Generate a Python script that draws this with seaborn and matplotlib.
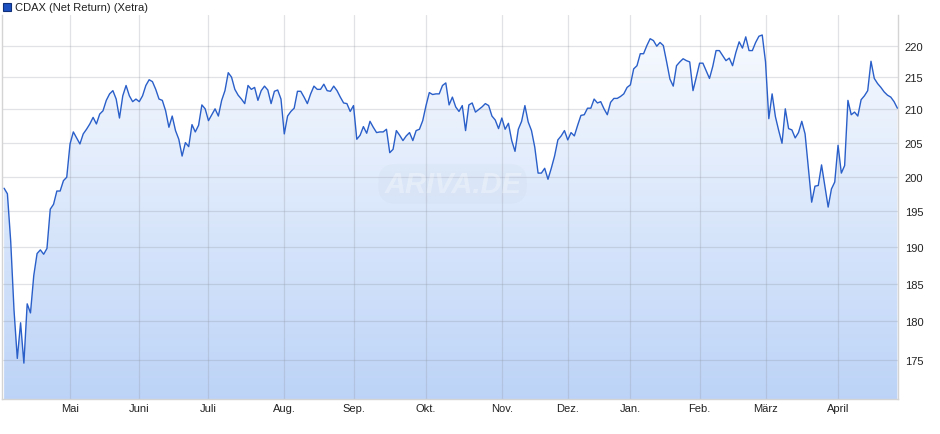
import numpy as np
import pandas as pd
import matplotlib
matplotlib.use("Agg")
import matplotlib.pyplot as plt
import seaborn as sns
from matplotlib.ticker import FixedLocator, NullLocator, FuncFormatter
from matplotlib.patches import Rectangle

# daily closes (trading days, April 2025 - April 2026)
apr_2025 = [198.3, 197.5, 190.8, 181.5, 175.2, 179.8, 174.6, 182.3, 181.1, 186.1,
            189.1, 189.6, 189.0, 189.8, 195.3, 196.0, 197.9, 197.9, 199.4, 199.9]
may_to_sep = [204.8, 206.6, 205.7, 204.8, 206.3, 207.0, 207.8, 208.8, 207.8, 209.3, 209.8,
              211.4, 212.4, 212.9, 211.6, 208.7, 212.1, 213.7, 212.1, 211.2, 211.6,
              211.2, 212.1, 213.7, 214.6, 214.3, 213.1, 211.6, 211.4, 209.8, 207.3,
              209.0, 206.8, 205.5, 203.0, 205.0, 204.4, 207.7, 206.6, 207.6, 210.7,
              210.1, 208.3, 209.2, 210.1, 209.0, 211.4, 212.9, 215.7, 215.0, 213.1,
              212.2, 211.6, 210.9, 213.7, 213.1, 213.4, 211.4, 212.9, 213.6, 213.0,
              210.9, 212.8, 213.0, 211.6, 206.3, 209.0, 209.7, 210.2, 212.8, 212.8,
              211.9, 210.9, 212.4, 213.6, 213.1, 213.1, 213.9, 212.9, 212.8, 213.6,
              212.9, 211.9, 211.0, 210.9, 209.7, 210.6, 205.5, 206.1]
sep_to_jan = [207.4, 206.4, 208.2, 207.3, 206.5, 206.6, 206.6, 207.0, 203.5, 204.0,
              206.8, 206.1, 205.3, 206.0, 206.5, 205.3, 206.8, 207.0, 208.3, 210.6,
              212.6, 212.3, 212.4, 212.4, 213.7, 214.1, 210.7, 211.9, 210.4, 209.7,
              210.6, 206.8, 210.7, 211.0, 209.6, 210.0, 210.4, 210.9, 210.6, 209.0,
              208.4, 207.1, 208.7, 207.0, 207.9, 205.3, 203.7, 207.0, 208.2, 210.6,
              208.1, 206.8, 204.3, 200.5, 200.5, 201.2, 199.6, 201.2, 203.0, 205.4,
              206.0, 206.8, 205.4, 206.5, 206.0, 207.6, 209.1, 209.2, 210.2, 210.2,
              211.6, 211.0, 211.2, 210.1, 209.2, 211.1, 211.7, 211.7, 212.0, 212.4,
              213.4, 213.8, 216.3, 216.8, 218.7]
jan_to_apr = [218.7, 220.0, 221.1, 220.8, 219.9, 220.5, 220.0, 217.4, 214.7, 213.6,
              216.8, 217.4, 217.9, 217.6, 217.4, 212.9, 215.0, 217.2, 217.2, 216.0,
              214.8, 216.7, 219.2, 219.2, 218.4, 217.6, 218.0, 216.8, 218.9, 220.6,
              219.6, 221.4, 219.2, 219.2, 220.5, 221.5, 221.7, 217.4, 208.6, 212.4,
              208.9, 206.8, 204.9, 210.1, 207.1, 206.9, 205.7, 206.5, 208.2, 206.3,
              201.2, 196.3, 198.6, 198.7, 201.7, 198.6, 195.6, 198.2, 199.2, 204.6,
              200.5, 201.6, 211.4, 209.2, 209.6, 209.0, 211.5, 212.1, 212.9, 217.5,
              214.8, 214.0, 213.4, 212.7, 212.2, 211.9, 211.2, 210.2]

month_labels = ["Mai", "Juni", "Juli", "Aug.", "Sep.", "Okt.", "Nov.",
                "Dez.", "Jan.", "Feb.", "März", "April"]
month_start = [20, 41, 62, 85, 106, 128, 151, 171, 190, 211, 231, 253]
y_ticks = [175, 180, 185, 190, 195, 200, 205, 210, 215, 220]

values = apr_2025 + may_to_sep + sep_to_jan + jan_to_apr
df = pd.DataFrame({"day": np.arange(len(values)), "close": values})

sns.set_style("white")
plt.rcParams["font.family"] = ["Liberation Sans", "DejaVu Sans"]

fig = plt.figure(figsize=(9.4, 4.35), dpi=100)
ax = fig.add_axes([2 / 940, 35 / 435, 895.7 / 940, 384.3 / 435])

ax.set_yscale("log")
x_lo, x_hi = -0.64, 271.1
y_lo, y_hi = 170.1, 225.0
ax.set_xlim(x_lo, x_hi)
ax.set_ylim(y_lo, y_hi)
ax.set_autoscale_on(False)

# gradient area under the line
poly = ax.fill_between(df["day"], df["close"], y_lo, color="none", linewidth=0)
top = np.array([0.98, 0.988, 1.0])
bottom = np.array([0.74, 0.83, 0.97])
t = np.linspace(0, 1, 256)[:, None]
grad = (top * (1 - t) + bottom * t)[:, None, :]
im = ax.imshow(grad, extent=[0, 1, 0, 1], transform=ax.transAxes,
               aspect="auto", zorder=0.2, interpolation="bilinear")
im.set_clip_path(poly.get_paths()[0], transform=ax.transData)

sns.lineplot(data=df, x="day", y="close", ax=ax, color="#2a5fc9",
             linewidth=1.0, zorder=3)

ax.set_xlim(x_lo, x_hi)
ax.set_ylim(y_lo, y_hi)

ax.set_xticks(month_start)
ax.set_xticklabels(month_labels)
ax.yaxis.set_major_locator(FixedLocator(y_ticks))
ax.yaxis.set_minor_locator(NullLocator())
ax.yaxis.set_major_formatter(FuncFormatter(lambda v, p: f"{v:.0f}"))
ax.yaxis.tick_right()
ax.tick_params(axis="both", length=0, labelsize=8, colors="#222222")
ax.tick_params(axis="y", pad=5)
ax.tick_params(axis="x", pad=3)
ax.set_xlabel("")
ax.set_ylabel("")

ax.grid(True, color="#8a8f99", alpha=0.25, linewidth=0.9)
ax.set_axisbelow(True)
for side in ["left", "right", "bottom"]:
    ax.spines[side].set_color("#d4d4d4")
    ax.spines[side].set_linewidth(1.0)
ax.spines["top"].set_visible(False)

# faint watermark
ax.text(0.503, 0.56, "ARIVA.DE", transform=ax.transAxes, ha="center", va="center",
        fontsize=21, fontweight="bold", fontstyle="italic", color="white", alpha=0.3,
        zorder=1,
        bbox=dict(boxstyle="round,pad=0.2,rounding_size=0.6", facecolor="#9aa8c0",
                  edgecolor="none", alpha=0.06))

# legend
fig.add_artist(Rectangle((3 / 940, 1 - 12 / 435), 8 / 940, 8 / 435,
                         transform=fig.transFigure, facecolor="#1c4fc0",
                         edgecolor="#10307a", linewidth=0.8))
fig.text(15 / 940, 1 - 8 / 435, "CDAX (Net Return) (Xetra)", fontsize=8,
         va="center", ha="left", color="#222222")

fig.savefig("out.png", dpi=100)
